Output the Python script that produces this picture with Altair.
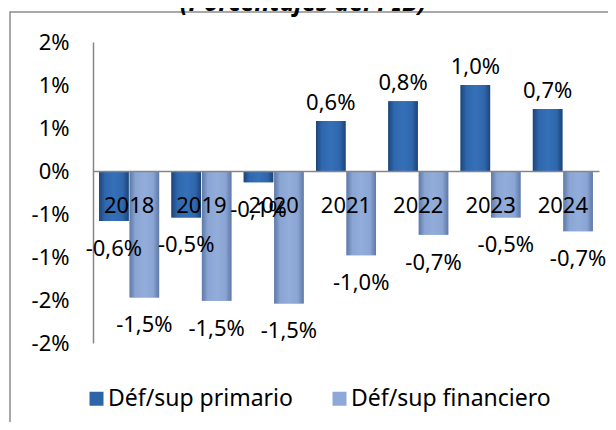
import altair as alt
import pandas as pd

# ---- data ----
years = ["2018", "2019", "2020", "2021", "2022", "2023", "2024"]
primario = [-0.58, -0.54, -0.13, 0.58, 0.81, 1.00, 0.72]
financiero = [-1.47, -1.51, -1.54, -0.98, -0.74, -0.54, -0.70]
series = ["Déf/sup primario", "Déf/sup financiero"]
y_ticks = [-2, -1.5, -1, -0.5, 0, 0.5, 1, 1.5]
title_text = "(Porcentajes del PIB)"

rows = []
for i, yr in enumerate(years):
    rows.append({"anio": yr, "serie": series[0], "valor": primario[i]})
    rows.append({"anio": yr, "serie": series[1], "valor": financiero[i]})
df = pd.DataFrame(rows)

FONT = "Noto Sans"
PW, PH = 506, 301
GRAY = "#868686"

x_enc = alt.X(
    "anio:N", sort=years,
    scale=alt.Scale(paddingInner=0.17, paddingOuter=0.085),
    axis=alt.Axis(title=None, orient="bottom", offset=-172, domainColor=GRAY,
                  domainWidth=1.5, ticks=False, grid=False, labelAngle=0,
                  labelFont=FONT, labelFontSize=22, labelColor="#000",
                  labelPadding=24, zindex=1),
)
y_enc = alt.Y(
    "valor:Q",
    scale=alt.Scale(domain=[-2, 1.5], nice=False, zero=False),
    axis=alt.Axis(title=None, values=y_ticks,
                  labelExpr="(datum.value < 0 ? '-' : '') + round(abs(datum.value)) + '%'",
                  ticks=False, grid=False, domainColor=GRAY, domainWidth=1.5,
                  labelFont=FONT, labelFontSize=22, labelColor="#000", labelPadding=24),
)
xoff = alt.XOffset("serie:N", scale=alt.Scale(domain=series, paddingInner=0.03))

base = alt.Chart(df).encode(x=x_enc, xOffset=xoff, y=y_enc)

bars_legend = base.mark_bar().encode(
    color=alt.Color(
        "serie:N",
        scale=alt.Scale(domain=series, range=["#2E65A8", "#8EA8D8"]),
        legend=alt.Legend(title=None, orient="none", legendX=-8, legendY=345,
                          direction="horizontal", symbolType="square", symbolSize=196,
                          symbolStrokeWidth=0, labelFont=FONT, labelFontSize=23,
                          labelColor="#000", labelOffset=0, labelLimit=0,
                          columnPadding=35, padding=0),
    )
)

grad_p = alt.Gradient(
    gradient="linear", x1=0, x2=1, y1=0, y2=0,
    stops=[alt.GradientStop(color="#1d4478", offset=0),
           alt.GradientStop(color="#2f67ad", offset=0.2),
           alt.GradientStop(color="#3570b8", offset=0.5),
           alt.GradientStop(color="#2f67ad", offset=0.8),
           alt.GradientStop(color="#1d4478", offset=1)],
)
grad_f = alt.Gradient(
    gradient="linear", x1=0, x2=1, y1=0, y2=0,
    stops=[alt.GradientStop(color="#5f79a6", offset=0),
           alt.GradientStop(color="#8aa4d3", offset=0.2),
           alt.GradientStop(color="#93addb", offset=0.5),
           alt.GradientStop(color="#8aa4d3", offset=0.8),
           alt.GradientStop(color="#5f79a6", offset=1)],
)

bars_p = base.mark_bar(color=grad_p).transform_filter(alt.datum.serie == series[0])
bars_f = base.mark_bar(color=grad_f).transform_filter(alt.datum.serie == series[1])

lbl_expr = "(datum.valor < 0 ? '-' : '') + replace(format(abs(datum.valor), '.1f'), '.', ',') + '%'"
labels_pos = base.mark_text(font=FONT, fontSize=22, baseline="middle", dy=-18, color="#000").encode(
    text="lbl:N").transform_calculate(lbl=lbl_expr).transform_filter("datum.valor >= 0")
labels_neg = base.mark_text(font=FONT, fontSize=22, baseline="middle", dy=28, color="#000").encode(
    text="lbl:N").transform_calculate(lbl=lbl_expr).transform_filter("datum.valor < 0")

frame = alt.Chart(pd.DataFrame({"k": [0]})).mark_rect(
    fillOpacity=0, stroke="#8c8c8c", strokeWidth=1.5
).encode(x=alt.value(-83), x2=alt.value(530), y=alt.value(-30), y2=alt.value(400))

title = alt.Chart(pd.DataFrame({"t": [title_text]})).mark_text(
    font=FONT, fontSize=25, fontWeight="bold", fontStyle="italic",
    baseline="alphabetic", align="center", color="#000"
).encode(text="t:N", x=alt.value(210), y=alt.value(-31))

chart = alt.layer(frame, title, bars_legend, bars_p, bars_f, labels_pos, labels_neg).properties(
    width=PW, height=PH,
    autosize=alt.AutoSizeParams(type="none"),
    padding={"left": 85, "top": 34, "right": 9, "bottom": 79},
).configure_view(stroke=None)

chart.save("out.html", embed_options={"renderer": "svg", "actions": False})
